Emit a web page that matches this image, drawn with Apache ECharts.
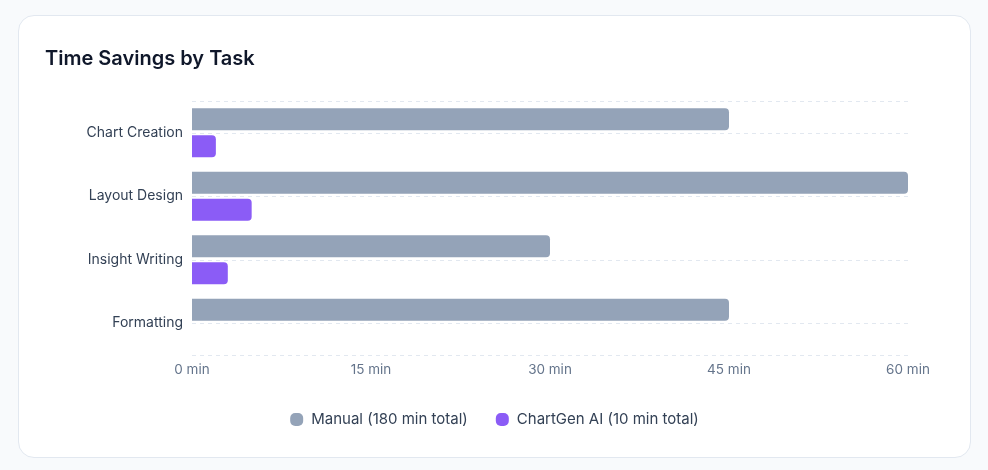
<!DOCTYPE html>
<html>
<head>
<meta charset="utf-8">
<title>Time Savings by Task</title>
<script src="https://cdn.jsdelivr.net/npm/echarts@6/dist/echarts.min.js"></script>
<style>
  html, body { margin: 0; padding: 0; background: #f8fafc; }
  .card {
    position: absolute; left: 18px; top: 15px;
    width: 951px; height: 441px;
    background: #fff; border: 1px solid #e2e8f0; border-radius: 16px;
    overflow: hidden;
  }
  #chart { width: 100%; height: 100%; }
</style>
</head>
<body>
<div class="card"><div id="chart"></div></div>
<script>
// 数据
var tasks = ['Chart Creation', 'Layout Design', 'Insight Writing', 'Formatting'];
var manualMinutes = [45, 60, 30, 45];
var aiMinutes = [2, 5, 3, 0];
var xTicks = [0, 15, 30, 45, 60];
var manualName = 'Manual (180 min total)';
var aiName = 'ChartGen AI (10 min total)';

// 横向虚线：上下边 + 每个类别中线
var guideSlots = ['', '', '', '', '', '', '', '', ''];
var guideShown = [0, 1, 3, 5, 7, 8];

// 图例用的圆角方块
var legendIcon = 'path://M5,0 H8 A5,5 0 0 1 13,5 V8 A5,5 0 0 1 8,13 H5 A5,5 0 0 1 0,8 V5 A5,5 0 0 1 5,0 Z';

var chart = echarts.init(document.getElementById('chart'));

var option = {
  textStyle: { fontFamily: 'Inter, "Noto Sans", sans-serif' },
  title: {
    text: 'Time Savings by Task',
    left: 21,
    top: 28,
    textStyle: { fontSize: 20, fontWeight: 600, color: '#0f172a', fontFamily: 'Inter' }
  },
  legend: {
    data: [manualName, aiName],
    top: 391,
    left: 'center',
    icon: legendIcon,
    itemWidth: 13,
    itemHeight: 13,
    itemGap: 28,
    textStyle: { fontSize: 15, color: '#334155', fontFamily: 'Inter', padding: [0, 0, 0, 3] }
  },
  grid: { left: 173, right: 62, top: 85, bottom: 102 },
  xAxis: {
    type: 'value',
    min: xTicks[0],
    max: xTicks[xTicks.length - 1],
    interval: xTicks[1] - xTicks[0],
    axisLine: { show: false },
    axisTick: { show: false },
    splitLine: { show: false },
    axisLabel: { formatter: '{value} min', color: '#64748b', fontSize: 13.5, margin: 8 }
  },
  yAxis: [
    {
      type: 'category',
      data: tasks,
      inverse: true,
      axisLine: { show: false },
      axisTick: { show: false },
      splitLine: { show: false },
      axisLabel: { color: '#334155', fontSize: 14, margin: 9 }
    },
    {
      type: 'category',
      data: guideSlots,
      boundaryGap: false,
      position: 'left',
      axisLine: { show: false },
      axisTick: { show: false },
      axisLabel: { show: false },
      splitLine: {
        show: true,
        interval: function (i) { return guideShown.indexOf(i) >= 0; },
        lineStyle: { color: '#e2e8f0', type: [4, 4], width: 1 }
      }
    }
  ],
  series: [
    {
      name: manualName,
      type: 'bar',
      yAxisIndex: 0,
      data: manualMinutes,
      barWidth: 22,
      barGap: '22%',
      itemStyle: { color: '#94a3b8', borderRadius: [0, 4, 4, 0] }
    },
    {
      name: aiName,
      type: 'bar',
      yAxisIndex: 0,
      data: aiMinutes,
      barWidth: 22,
      itemStyle: { color: '#8b5cf6', borderRadius: [0, 4, 4, 0] }
    }
  ]
};

chart.setOption(option);
</script>
</body>
</html>
